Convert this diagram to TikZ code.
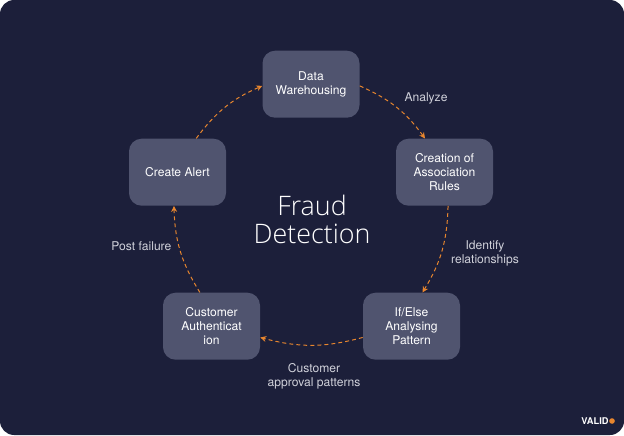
\documentclass[tikz,border=0pt]{standalone}
\usepackage{fontspec}
\setmainfont{TeX Gyre Heros}
\newfontfamily\titlefont[UprightFont={* Light}]{Open Sans}
\usepackage{xcolor}
\usetikzlibrary{arrows.meta}
\definecolor{bgdark}{HTML}{1C1F3A}
\definecolor{boxfill}{HTML}{50546F}
\definecolor{flowline}{HTML}{E8862E}
\definecolor{labelgrey}{HTML}{D0D1DA}
\tikzset{
  stagebox/.style={fill=boxfill,rounded corners=9pt,minimum width=2.425cm,minimum height=1.675cm,
    align=center,text=white,font=\fontsize{8.6}{10}\selectfont,inner sep=0pt},
  flow/.style={flowline,dash pattern=on 2.8pt off 2.2pt,line width=0.7pt,
    -{Stealth[length=4.2pt,width=4.2pt]}},
  steplabel/.style={align=center,text=labelgrey,font=\fontsize{8.6}{10}\selectfont,inner sep=0pt}
}
\begin{document}
\begin{tikzpicture}
      \useasboundingbox (0,0) rectangle (15.6,10.875);
      \fill[white] (0,0) rectangle (15.6,10.875);
      \fill[bgdark,rounded corners=10pt] (0,0) rectangle (15.6,10.875);

      \node[stagebox] (data) at (7.775,8.77) {Data\\Warehousing};
      \node[stagebox] (rules) at (11.1125,6.57) {Creation of\\Association\\Rules};
      \node[stagebox] (pattern) at (10.2875,2.72) {If/Else\\Analysing\\Pattern};
      \node[stagebox] (auth) at (5.2875,2.72) {Customer\\Authenticat\\ion};
      \node[stagebox] (alert) at (4.4375,6.57) {Create Alert};

      \node[text=white,align=center,font=\fontsize{19.1}{20.3}\titlefont,inner sep=0pt] (title) at (7.8,5.39) {Fraud\\Detection};

      \node[steplabel] (analyze) at (10.65,8.42) {Analyze};
      \node[steplabel] (identify) at (12.125,4.53) {Identify\\relationships};
      \node[steplabel] (approval) at (7.85,1.47) {Customer\\approval patterns};
      \node[steplabel] (failure) at (3.535,4.71) {Post failure};

      \draw[flow,bend left=15] (data.-2) to (rules.120);
      \draw[flow,bend left=15] (rules.-84) to (pattern.72);
      \draw[flow,bend left=15] (pattern.193) to (auth.-13);
      \draw[flow,bend left=15] (auth.109) to (alert.264);
      \draw[flow,bend left=15] (alert.61) to (data.182);

      \node[text=white,anchor=east,font=\fontsize{6.6}{7}\selectfont\bfseries,inner sep=0pt] (valid) at (15.22,0.35) {VALID};
      \fill[flowline] (15.3,0.35) circle (0.07);
\end{tikzpicture}
\end{document}
